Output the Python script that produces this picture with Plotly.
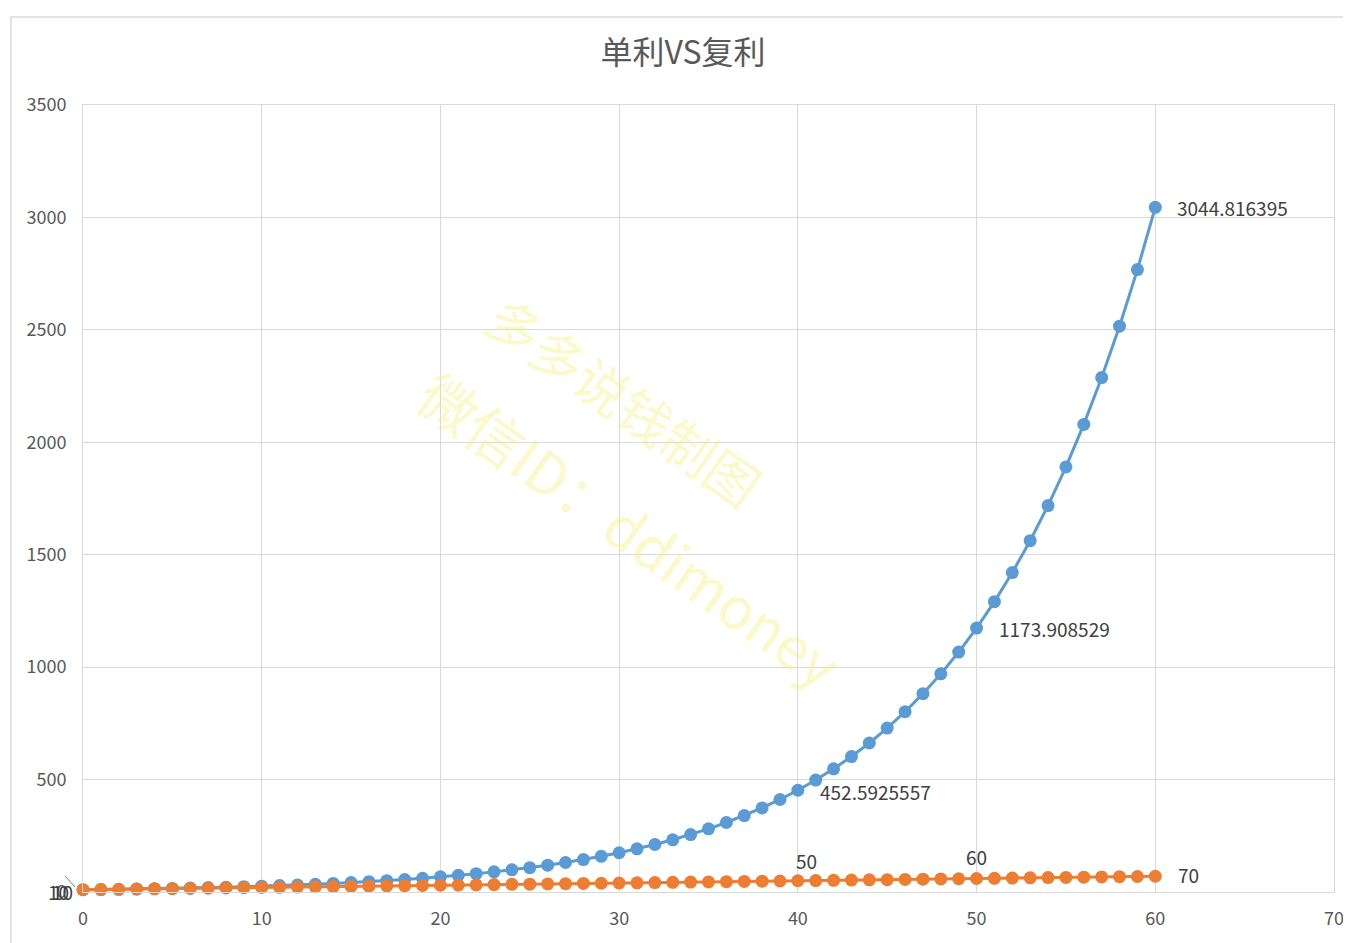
import plotly.graph_objects as go

years = list(range(0, 61))
compound = [10.00, 11.00, 12.10, 13.31, 14.64, 16.11, 17.72, 19.49, 21.44, 23.58,
            25.94, 28.53, 31.38, 34.52, 37.97, 41.77, 45.95, 50.54, 55.60, 61.16,
            67.27, 74.00, 81.40, 89.54, 98.50, 108.35, 119.18, 131.10, 144.21, 158.63,
            174.49, 191.94, 211.14, 232.25, 255.48, 281.02, 309.13, 340.04, 374.04, 411.45,
            452.59, 497.85, 547.64, 602.40, 662.64, 728.90, 801.80, 881.97, 970.17, 1067.19,
            1173.91, 1291.30, 1420.43, 1562.47, 1718.72, 1890.59, 2079.65, 2287.62, 2516.38, 2768.01,
            3044.82]
simple = [10, 11, 12, 13, 14, 15, 16, 17, 18, 19,
          20, 21, 22, 23, 24, 25, 26, 27, 28, 29,
          30, 31, 32, 33, 34, 35, 36, 37, 38, 39,
          40, 41, 42, 43, 44, 45, 46, 47, 48, 49,
          50, 51, 52, 53, 54, 55, 56, 57, 58, 59,
          60, 61, 62, 63, 64, 65, 66, 67, 68, 69,
          70]

title_text = "单利VS复利"
compound_labels = [(40, "452.5925557"), (50, "1173.908529"), (60, "3044.816395")]
simple_labels = [(40, "50"), (50, "60"), (60, "70")]
watermark_1 = "多多说钱制图"
watermark_2 = "微信ID：ddimoney"

BLUE = "#5B9BD5"
ORANGE = "#ED7D31"
TXT = "#404040"
TICK = "#595959"
FONT = "Noto Sans CJK SC"
LBL = 19

fig = go.Figure()
fig.add_trace(go.Scatter(x=years, y=compound, mode="lines+markers", cliponaxis=False,
                         line=dict(color=BLUE, width=3),
                         marker=dict(color=BLUE, size=13), hoverinfo="skip"))
fig.add_trace(go.Scatter(x=years, y=simple, mode="lines+markers", cliponaxis=False,
                         line=dict(color=ORANGE, width=3),
                         marker=dict(color=ORANGE, size=13), hoverinfo="skip"))

ann = []
# watermark
ann.append(dict(x=0.433, y=0.625, xref="paper", yref="paper", text=watermark_1, showarrow=False,
                textangle=35, font=dict(size=53, color="rgba(245,238,120,0.40)", family=FONT)))
ann.append(dict(x=0.438, y=0.4625, xref="paper", yref="paper", text=watermark_2, showarrow=False,
                textangle=35, font=dict(size=57, color="rgba(245,238,120,0.40)", family=FONT)))

for xv, t in compound_labels:
    ann.append(dict(x=xv, y=compound[years.index(xv)], text=t, showarrow=False,
                    xanchor="left", yanchor="middle", xshift=20,
                    yshift=-1 if xv == 40 else 0,
                    font=dict(size=LBL, color=TXT, family=FONT)))
for xv, t in simple_labels:
    if xv == 60:
        ann.append(dict(x=xv, y=simple[years.index(xv)], text=t, showarrow=False,
                        xanchor="left", yanchor="middle", xshift=21, yshift=2,
                        font=dict(size=LBL, color=TXT, family=FONT)))
    else:
        ann.append(dict(x=xv, y=simple[years.index(xv)], text=t, showarrow=False,
                        xanchor="center", yanchor="middle", xshift=9 if xv == 40 else 0,
                        yshift=20 if xv == 40 else 22,
                        font=dict(size=LBL, color=TXT, family=FONT)))
# overlapping "10" labels at x=0
ann.append(dict(x=0, y=compound[0], text="10", showarrow=False, xanchor="right",
                yanchor="middle", xshift=-8, yshift=-2,
                font=dict(size=LBL, color=TXT, family=FONT)))
ann.append(dict(x=0, y=simple[0], text="10", showarrow=False, xanchor="right",
                yanchor="middle", xshift=-12, yshift=-2,
                font=dict(size=LBL, color=TXT, family=FONT)))

fig.update_layout(
    width=1343, height=935,
    margin=dict(l=75, r=17, t=97, b=51, autoexpand=False),
    paper_bgcolor="white", plot_bgcolor="white",
    showlegend=False,
    title=dict(text=title_text, x=0.5026, xanchor="center", y=0.952, yanchor="middle",
               font=dict(size=32, color=TICK, family=FONT)),
    xaxis=dict(range=[0, 70], tick0=0, dtick=10, showgrid=True, gridcolor="#D9D9D9",
               gridwidth=1, zeroline=False, showline=True, linecolor="#D9D9D9", mirror=True,
               ticks="", ticklabelstandoff=10, automargin=False,
               tickfont=dict(size=18, color=TICK, family=FONT)),
    yaxis=dict(range=[0, 3500], showgrid=True, gridcolor="#D9D9D9",
               gridwidth=1, zeroline=False, showline=True, linecolor="#D9D9D9", mirror=True,
               ticks="", ticklabelstandoff=12, automargin=False,
               tickfont=dict(size=18, color=TICK, family=FONT),
               tickvals=[0, 500, 1000, 1500, 2000, 2500, 3000, 3500]),
    annotations=ann,
    shapes=[
        dict(type="line", xref="paper", yref="paper", x0=-0.0576, x1=1.02, y0=1.1118, y1=1.1118,
             line=dict(color="#D9D9D9", width=1.5)),
        dict(type="line", xref="paper", yref="paper", x0=-0.0576, x1=-0.0576, y0=-0.08, y1=1.1118,
             line=dict(color="#D9D9D9", width=1.5)),
        dict(type="line", xref="paper", yref="paper", x0=-0.0144, x1=-0.0064, y0=0.0203, y1=0.0064,
             line=dict(color="#808080", width=1)),
    ],
)

fig.write_html("out.html")
